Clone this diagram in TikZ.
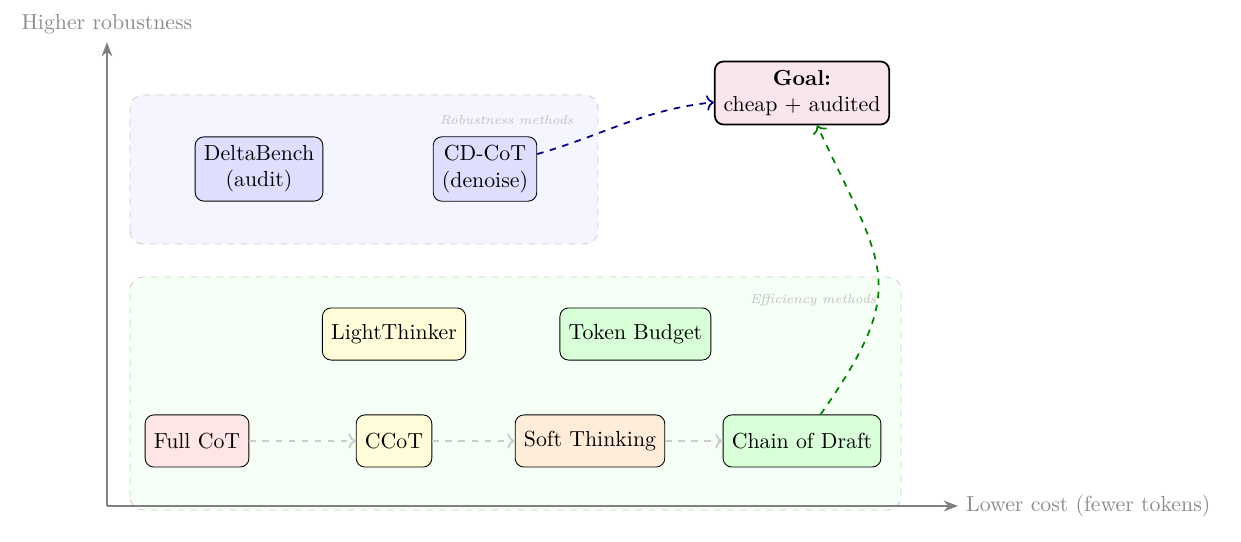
\documentclass[tikz,border=0pt]{standalone}
\usepackage{amsmath}
\usetikzlibrary{arrows.meta, positioning}

\tikzset{
    method/.style={draw, rounded corners=4pt, align=center, inner sep=4pt, minimum height=0.84cm},
    region/.style={draw=gray!40, dashed, rounded corners=6pt},
    regionlabel/.style={font=\fontsize{6}{7}\selectfont\itshape, text=gray!50},
    flow/.style={gray!40, thick, dashed, ->},
    axis/.style={gray, thick, -{Stealth}}
}

\begin{document}
\begin{tikzpicture}
    \useasboundingbox (0,0) rectangle (20,8.719);
    % regions
    \draw[region, fill=blue!4] (2.095,4.786) rectangle (9.637,7.188);
    \draw[region, fill=green!4] (2.095,0.50) rectangle (14.52,4.255);
    \node[regionlabel, anchor=east] (roblabel) at (9.363,6.785) {Robustness methods};
    \node[regionlabel, anchor=east] (efflabel) at (14.247,3.884) {Efficiency methods};

    % axes
    \coordinate (O) at (1.724,0.564);
    \coordinate (ytop) at (1.724,8.04);
    \coordinate (xend) at (15.44,0.564);
    \draw[axis] (O) -- (ytop) node[above, text=gray!90] (ylabel) {Higher robustness};
    \draw[axis] (O) -- (xend) node[right, text=gray!90] (xlabel) {Lower cost (fewer tokens)};

    % methods
    \node[method, fill=blue!13] (delta) at (4.174,5.995) {DeltaBench\\(audit)};
    \node[method, fill=blue!13] (cdcot) at (7.816,5.995) {CD-CoT\\(denoise)};
    \node[method, fill=purple!10, thick] (goal) at (12.925,7.22) {\textbf{Goal:}\\cheap + audited};
    \node[method, fill=yellow!15] (light) at (6.35,3.336) {LightThinker};
    \node[method, fill=green!15] (budget) at (10.24,3.336) {Token Budget};
    \node[method, fill=red!10] (full) at (3.175,1.612) {Full CoT};
    \node[method, fill=yellow!15] (ccot) at (6.35,1.612) {CCoT};
    \node[method, fill=orange!15] (soft) at (9.508,1.612) {Soft Thinking};
    \node[method, fill=green!15] (draft) at (12.925,1.612) {Chain of Draft};

    % arrows
    \draw[flow] (full) -- (ccot);
    \draw[flow] (ccot) -- (soft);
    \draw[flow] (soft) -- (draft);
    \draw[blue!50!black, thick, dashed, ->] (cdcot) to[out=16, in=186] (goal);
    \draw[green!50!black, thick, dashed, ->] (draft) to[out=55, in=-65, looseness=1.4] (goal);
\end{tikzpicture}
\end{document}
